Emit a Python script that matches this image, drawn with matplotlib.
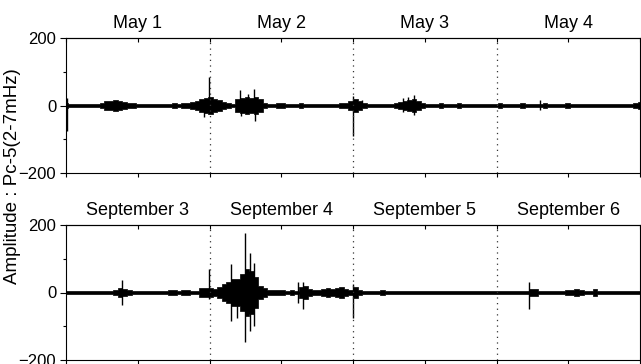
import numpy as np
import matplotlib
matplotlib.use("Agg")
import matplotlib.pyplot as plt

plt.rcParams["font.family"] = ["Liberation Sans", "DejaVu Sans"]

N_DAYS = 4

may_days = ["May 1", "May 2", "May 3", "May 4"]
sep_days = ["September 3", "September 4", "September 5", "September 6"]

# half width of the dense Pc-5 trace, one value every 45 min
may_envelope = [
    6, 4, 4, 3, 3, 3, 3, 4, 8, 12, 14, 15, 13, 10, 8, 6,
    5, 4, 4, 4, 5, 4, 4, 5, 6, 5, 6, 6, 10, 14, 18, 22,
    25, 20, 15, 10, 6, 5, 18, 22, 25, 22, 25, 18, 8, 5, 4, 6,
    7, 4, 4, 4, 8, 4, 4, 3, 4, 4, 4, 4, 5, 7, 8, 12,
    20, 12, 8, 4, 4, 3, 4, 3, 5, 8, 10, 14, 15, 18, 12, 7,
    5, 4, 3, 6, 4, 3, 4, 6, 4, 3, 3, 3, 4, 5, 3, 3,
    6, 4, 3, 3, 4, 7, 4, 3, 3, 5, 6, 4, 3, 4, 5, 6,
    4, 3, 4, 3, 5, 4, 3, 3, 3, 4, 3, 3, 4, 5, 8, 9,
]
sep_envelope = [
    4, 3, 3, 4, 3, 3, 3, 3, 3, 4, 4, 8, 12, 10, 6, 4,
    3, 3, 3, 4, 5, 4, 3, 8, 6, 5, 6, 6, 5, 4, 12, 12,
    12, 10, 15, 25, 30, 40, 40, 55, 70, 65, 45, 20, 12, 8, 6, 7,
    6, 5, 6, 5, 15, 18, 10, 6, 8, 10, 12, 10, 12, 15, 10, 8,
    15, 6, 4, 5, 4, 3, 8, 4, 3, 3, 3, 3, 3, 3, 3, 3,
    3, 3, 3, 3, 3, 3, 3, 3, 3, 4, 3, 3, 3, 3, 3, 3,
    3, 3, 3, 3, 3, 3, 3, 10, 10, 5, 4, 5, 3, 3, 3, 8,
    8, 9, 6, 3, 4, 10, 4, 3, 3, 3, 3, 3, 3, 3, 3, 3,
]

# single excursions sticking out of the envelope (day, amplitude)
may_peak_times = [0.004, 0.004, 0.96, 0.995, 1.213, 1.22, 1.27, 1.31, 1.317,
                  2.0, 2.002, 2.06, 2.35, 2.35, 2.385, 2.427, 2.427, 3.30, 3.30]
may_peak_values = [22, -75, -35, 85, 45, -30, 35, 48, -45,
                   28, -90, 15, 22, -20, 25, 32, -28, 15, -12]

sep_peak_times = [0.388, 0.388, 0.999, 0.999, 1.148, 1.148, 1.19, 1.247, 1.247,
                  1.282, 1.282, 1.31, 1.31, 1.619, 1.619, 1.654, 1.654,
                  2.002, 2.002, 3.229, 3.229]
sep_peak_values = [37, -38, 70, -20, 85, -83, -75, 175, -148,
                   118, -115, 87, -100, 30, -30, 30, -48,
                   25, -75, 30, -48]


def draw_panel(ax, envelope, peak_times, peak_values, day_labels):

    amp = np.asarray(envelope, dtype=float)
    t = np.linspace(0, N_DAYS, len(amp))
    ax.fill_between(t, -amp, amp, step="mid", color="black", lw=0.5)
    ax.vlines(peak_times, 0, peak_values, color="black", lw=1.0)

    for day in range(1, N_DAYS):
        ax.axvline(day, color="#333333", lw=0.9, ls=(0, (1, 3.5)))

    ax.set_xlim(0, N_DAYS)
    ax.set_ylim(-200, 200)
    ax.set_yticks([-200, 0, 200])
    ax.set_yticks([-100, 100], minor=True)
    ax.tick_params(axis="y", which="major", direction="out", length=4,
                   width=0.8, labelsize=12, pad=3)
    ax.tick_params(axis="y", which="minor", direction="out", length=2.5,
                   width=0.8)

    ticks = np.arange(0, N_DAYS + 0.5, 0.5)
    ax.set_xticks(ticks)
    ax.tick_params(axis="x", direction="out", length=3, width=0.8,
                   labelbottom=False)
    top = ax.secondary_xaxis("top")
    top.set_xticks(ticks)
    top.tick_params(direction="in", length=3, width=0.8, labeltop=False)
    top.spines["top"].set_linewidth(0.8)

    for spine in ax.spines.values():
        spine.set_linewidth(0.8)

    for i, label in enumerate(day_labels):
        ax.annotate(label, xy=(i + 0.5, 1), xycoords=("data", "axes fraction"),
                    xytext=(0, 4), textcoords="offset points",
                    ha="center", va="bottom", fontsize=13)


fig = plt.figure(figsize=(6.41, 3.64), dpi=100)
ax_may = fig.add_axes([66 / 641, 1 - 173 / 364, 574 / 641, 135 / 364])
ax_sep = fig.add_axes([66 / 641, 1 - 360 / 364, 574 / 641, 135 / 364])

draw_panel(ax_may, may_envelope, may_peak_times, may_peak_values, may_days)
draw_panel(ax_sep, sep_envelope, sep_peak_times, sep_peak_values, sep_days)

fig.text(13 / 641, 1 - 176 / 364, "Amplitude : Pc-5(2-7mHz)", rotation=90,
         ha="center", va="center", fontsize=13.5)

fig.savefig("out.png", dpi=100)
